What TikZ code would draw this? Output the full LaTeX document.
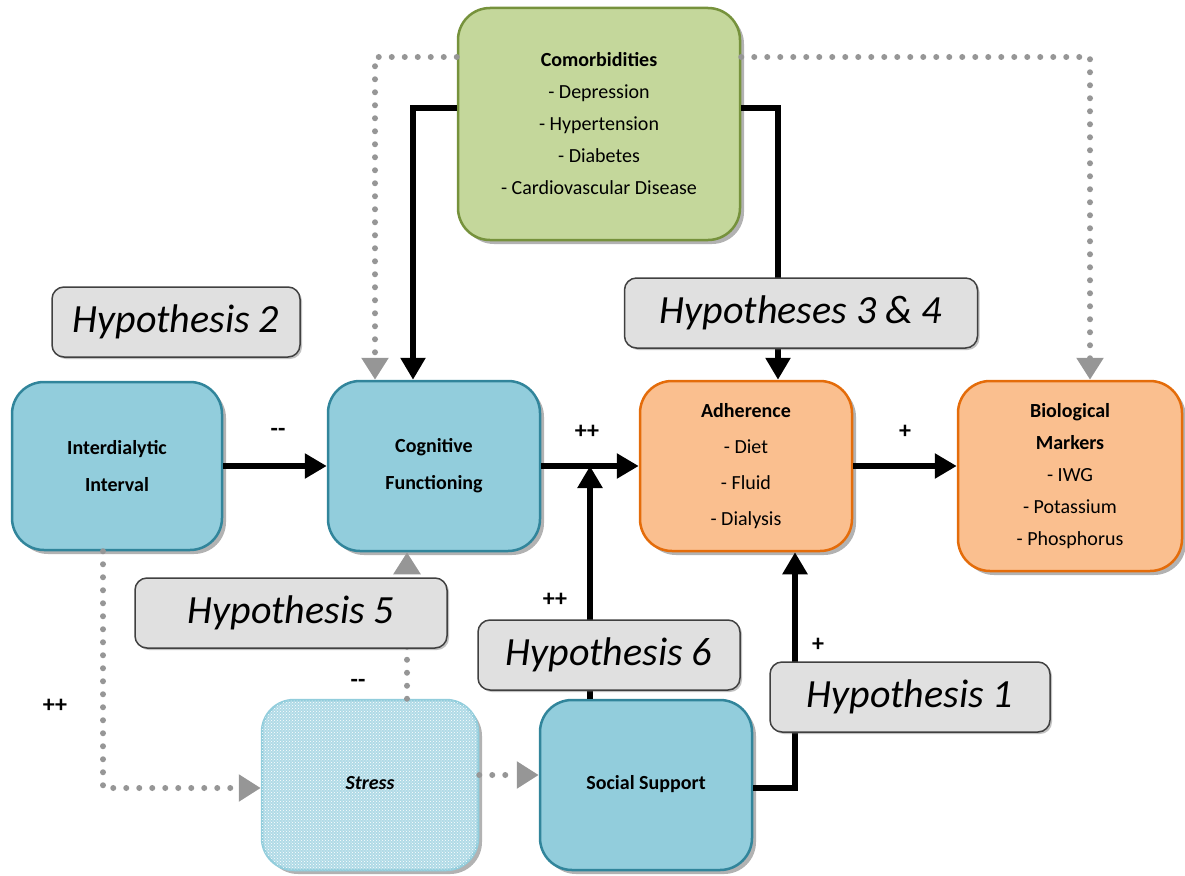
\documentclass[tikz,border=0pt]{standalone}
\usepackage{fontspec}
\setmainfont{Carlito}
\usetikzlibrary{arrows.meta,shadows,patterns}
\definecolor{factorblue}{RGB}{146,205,220}
\definecolor{factorline}{RGB}{49,133,155}
\definecolor{stressblue}{RGB}{176,218,230}
\definecolor{comorbgreen}{RGB}{196,215,155}
\definecolor{comorbline}{RGB}{118,146,60}
\definecolor{outcomeorange}{RGB}{250,191,143}
\definecolor{outcomeline}{RGB}{228,108,10}
\definecolor{hypgray}{RGB}{224,224,224}
\definecolor{maybegray}{RGB}{150,150,150}

\begin{document}
\begin{tikzpicture}[x=1pt,y=-1pt]
        \tikzstyle{every node}=[align=center, inner sep=2pt, font=\fontsize{20}{32}\selectfont]
        \tikzstyle{box}=[draw, line width=2.5pt, rounded corners=32pt, minimum width=210pt, minimum height=168pt,
                drop shadow={shadow xshift=4pt, shadow yshift=-4pt, fill=black!60, opacity=.5}]
        \tikzstyle{factor}=[box, fill=factorblue, draw=factorline]
        \tikzstyle{outcome}=[box, fill=outcomeorange, draw=outcomeline]
        \tikzstyle{hyp}=[draw=black!75, line width=1.5pt, fill=hypgray, rounded corners=12pt, minimum height=70pt,
                font=\fontsize{40}{40}\selectfont\itshape,
                drop shadow={shadow xshift=2pt, shadow yshift=-2pt, fill=black!60, opacity=.4}]
        \tikzstyle{sign}=[font=\fontsize{24}{24}\selectfont\bfseries]
        \tikzstyle{link}=[line width=6pt, -{Triangle[length=22pt,width=24pt]}]
        \tikzstyle{maybe}=[maybegray, line width=6pt, line cap=round, dash pattern=on 0pt off 13pt,
                -{Triangle[length=22pt,width=26pt]}]
        \useasboundingbox (0,0) rectangle (1185,875);

        \node[box, fill=comorbgreen, draw=comorbline, minimum width=282pt, minimum height=232pt] (comorb) at (599,124)
                {\textbf{Comorbidities}\\- Depression\\- Hypertension\\- Diabetes\\- Cardiovascular Disease};
        \node[factor, font=\fontsize{20}{37}\selectfont\bfseries] (inter) at (117,466) {Interdialytic\\Interval};
        \node[factor, font=\fontsize{20}{37}\selectfont\bfseries, minimum width=212pt, minimum height=170pt] (cog) at (434,466)
                {Cognitive\\Functioning};
        \node[outcome, font=\fontsize{20}{36}\selectfont, minimum width=212pt, minimum height=170pt] (adh) at (746,466)
                {\textbf{Adherence}\\- Diet\\- Fluid\\- Dialysis};
        \node[outcome, minimum width=224pt, minimum height=190pt] (bio) at (1070,476)
                {\textbf{Biological}\\\textbf{Markers}\\- IWG\\- Potassium\\- Phosphorus};
        \node[box, fill=stressblue, draw=factorblue, minimum width=216pt, minimum height=170pt,
                postaction={pattern=crosshatch dots, pattern color=white}, font=\fontsize{20}{20}\selectfont\itshape\bfseries]
                (stress) at (370,785) {\raisebox{5pt}{Stress}};
        \node[factor, font=\fontsize{20}{20}\selectfont\bfseries, minimum width=212pt, minimum height=170pt] (social) at (646,785)
                {\raisebox{5pt}{Social Support}};

        \coordinate (cL) at (413,108);
        \coordinate (cR) at (778,108);
        \coordinate (gL) at (375,57);
        \coordinate (gR) at (1090,57);
        \coordinate (gI) at (103,788);
        \coordinate (gS) at (407,700);
        \coordinate (gM) at (500,775);
        \coordinate (j6) at (590,466);
        \coordinate (cS) at (795,788);

        \draw[maybe] (comorb.west |- gL) -| (cog.north -| gL);
        \draw[maybe] (comorb.east |- gR) -| (bio.north -| gR);
        \draw[maybe] (inter.south -| gI) |- (stress.west |- gI);
        \draw[maybe] (stress.north -| gS) -- (cog.south -| gS);
        \draw[maybe] (stress.east |- gM) -- (social.west |- gM);
        \draw[link] (comorb.west |- cL) -| (cog.north -| cL);
        \draw[link] (comorb.east |- cR) -| (adh.north -| cR);
        \draw[link] (inter) -- (cog);
        \draw[link] (cog) -- (adh);
        \draw[link] (adh.east) -- (bio.west |- adh.east);
        \draw[link] (social.north -| j6) -- (j6);
        \draw[link] (social.east |- cS) -| (adh.south -| cS);

        \node[hyp, minimum width=248pt] (hyp2) at (176,322) {Hypothesis 2};
        \node[hyp, minimum width=353pt] (hyp34) at (801,313) {Hypotheses 3 \& 4};
        \node[hyp, minimum width=312pt] (hyp5) at (291,613) {Hypothesis 5};
        \node[hyp, minimum width=262pt] (hyp6) at (609,655) {Hypothesis 6};
        \node[hyp, minimum width=280pt] (hyp1) at (910,697) {Hypothesis 1};

        \node[sign] (s1) at (278,432) {-{}-};
        \node[sign] (s2) at (587,432) {++};
        \node[sign] (s3) at (905,432) {+};
        \node[sign] (s4) at (555,600) {++};
        \node[sign] (s5) at (818,645) {+};
        \node[sign] (s6) at (358,683) {-{}-};
        \node[sign] (s7) at (55,706) {++};
    \end{tikzpicture}
\end{document}
